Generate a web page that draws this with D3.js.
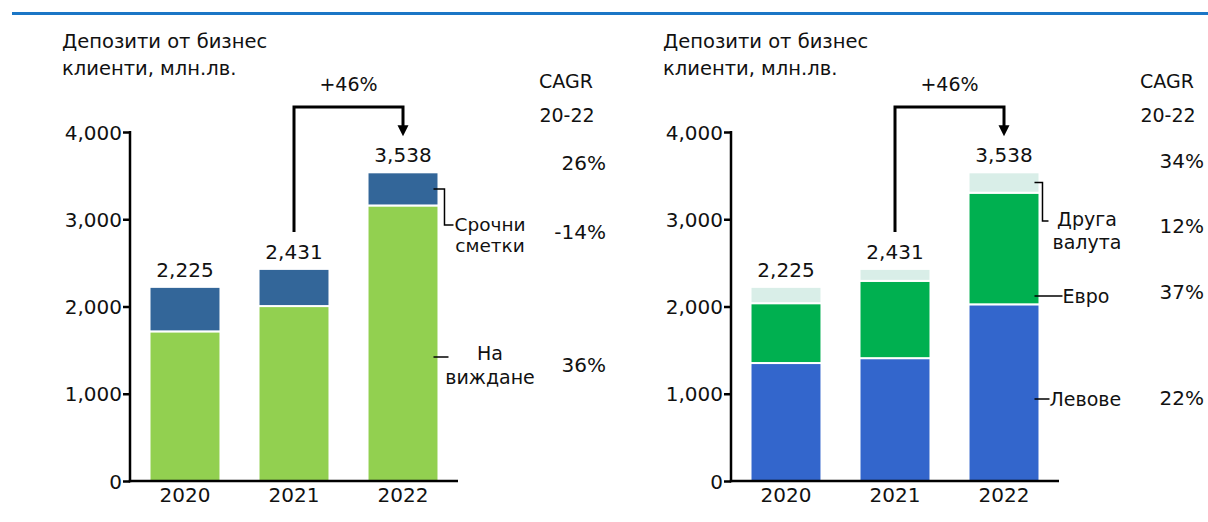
<!DOCTYPE html>
<html>
<head>
<meta charset="utf-8">
<script src="https://cdn.jsdelivr.net/npm/d3@7"></script>
<style>
  html, body { margin: 0; padding: 0; background: #fff; }
  svg { display: block; }
  text { font-family: "DejaVu Sans", Verdana, sans-serif; fill: #111; }
</style>
</head>
<body>
<svg id="chart" width="1208" height="522"></svg>
<script>
// Shared categories and axis ticks
const years = ["2020", "2021", "2022"];
const yTicks = [0, 1000, 2000, 3000, 4000];
const titleLines = ["Депозити от бизнес", "клиенти, млн.лв."];
const growthLabel = "+46%";
const cagrHeader = ["CAGR", "20-22"];

// Left panel: deposits by type (млн.лв.)
const demandDeposits = [1715, 2005, 3158];   // На виждане
const termDeposits   = [510, 426, 380];      // Срочни сметки
const typeTotals     = [2225, 2431, 3538];
const typeCagr       = ["26%", "-14%", "36%"];

// Right panel: deposits by currency (млн.лв.)
const bgnDeposits   = [1352, 1408, 2025];    // Левове
const eurDeposits   = [686, 886, 1279];      // Евро
const otherDeposits = [187, 137, 234];       // Друга валута
const currencyTotals = [2225, 2431, 3538];
const currencyCagr   = ["34%", "12%", "37%", "22%"];

const svg = d3.select("#chart");

// Thin blue rule across the top
svg.append("line")
  .attr("x1", 12).attr("x2", 1208)
  .attr("y1", 13.5).attr("y2", 13.5)
  .attr("stroke", "#1b76c6").attr("stroke-width", 3);

function drawPanel(ox, layers, totals) {
  const g = svg.append("g").attr("transform", `translate(${ox},0)`);

  const x = d3.scaleBand().domain(years)
    .range([130, 458]).paddingInner(0.349).paddingOuter(0.179);
  const y = d3.scaleLinear().domain([0, 4000]).range([481, 132]);

  // Title
  g.append("text").attr("x", 62).attr("y", 48).style("font-size", "19.5px").text(titleLines[0]);
  g.append("text").attr("x", 62).attr("y", 75).style("font-size", "19.5px").text(titleLines[1]);

  // Stacked bars
  const rows = years.map((yr, i) => {
    const r = { year: yr };
    layers.forEach(l => r[l.key] = l.values[i]);
    return r;
  });
  const stack = d3.stack().keys(layers.map(l => l.key))(rows);
  const colorOf = Object.fromEntries(layers.map(l => [l.key, l.color]));

  g.append("g").selectAll("g").data(stack).join("g")
    .attr("fill", d => colorOf[d.key])
    .selectAll("rect").data(d => d).join("rect")
      .attr("x", d => x(d.data.year))
      .attr("width", x.bandwidth())
      .attr("y", d => y(d[1]))
      .attr("height", d => y(d[0]) - y(d[1]))
      .attr("stroke", "#fff").attr("stroke-width", 2);

  // Y axis
  const yAxis = d3.axisLeft(y).tickValues(yTicks).tickSize(7).tickSizeOuter(0)
    .tickFormat(d3.format(","));
  const ay = g.append("g").attr("transform", "translate(130,0)").call(yAxis);
  ay.select(".domain").remove();
  ay.selectAll(".tick line").attr("stroke", "#000").attr("stroke-width", 2.5);
  ay.selectAll(".tick text").attr("x", -8).attr("dy", "0.35em")
    .style("font-size", "20px").style("font-family", "DejaVu Sans, Verdana, sans-serif").attr("fill", "#111");
  g.append("line").attr("x1", 130).attr("x2", 130).attr("y1", 131).attr("y2", 482.2)
    .attr("stroke", "#000").attr("stroke-width", 2.5);
  g.append("line").attr("x1", 128.8).attr("x2", 458).attr("y1", y(0)).attr("y2", y(0))
    .attr("stroke", "#000").attr("stroke-width", 2.5);

  // Year labels
  g.selectAll(".yr").data(years).join("text")
    .attr("x", d => x(d) + x.bandwidth() / 2).attr("y", 502)
    .attr("text-anchor", "middle").style("font-size", "20px").text(d => d);

  // Totals above bars
  g.selectAll(".tot").data(totals).join("text")
    .attr("x", (d, i) => x(years[i]) + x.bandwidth() / 2)
    .attr("y", d => y(d) - 10)
    .attr("text-anchor", "middle").style("font-size", "20px")
    .text(d => d3.format(",")(d));

  // Growth bracket 2021 -> 2022
  const cx1 = x(years[1]) + x.bandwidth() / 2;
  const cx2 = x(years[2]) + x.bandwidth() / 2;
  const topY = 107;
  g.append("path")
    .attr("d", `M${cx1},${y(totals[1]) - 37} V${topY} H${cx2} V${y(totals[2]) - 46}`)
    .attr("fill", "none").attr("stroke", "#000").attr("stroke-width", 3);
  const tip = y(totals[2]) - 36;
  g.append("path")
    .attr("d", `M${cx2 - 5.5},${tip - 11} L${cx2 + 5.5},${tip - 11} L${cx2},${tip} Z`)
    .attr("fill", "#000");
  g.append("text").attr("x", (cx1 + cx2) / 2).attr("y", 91)
    .attr("text-anchor", "middle").style("font-size", "19px").text(growthLabel);

  // CAGR header
  g.append("text").attr("x", 566).attr("y", 88).attr("text-anchor", "middle")
    .style("font-size", "19px").text(cagrHeader[0]);
  g.append("text").attr("x", 567).attr("y", 122).attr("text-anchor", "middle")
    .style("font-size", "19px").text(cagrHeader[1]);

  return { g, x, y };
}

// ---- Left panel ----
const left = drawPanel(0, [
  { key: "demand", values: demandDeposits, color: "#92d050" },
  { key: "term", values: termDeposits, color: "#336699" }
], typeTotals);

(function () {
  const { g, x, y } = left;
  const barR = x(years[2]) + x.bandwidth();
  const termMid = y(demandDeposits[2] + termDeposits[2] / 2);
  g.append("path")
    .attr("d", `M${barR - 5},${termMid} H${barR + 6} V225 H${barR + 15}`)
    .attr("fill", "none").attr("stroke", "#000").attr("stroke-width", 1.5);
  g.append("text").attr("x", 490).attr("y", 231).attr("text-anchor", "middle")
    .style("font-size", "18.5px").text("Срочни");
  g.append("text").attr("x", 490).attr("y", 252).attr("text-anchor", "middle")
    .style("font-size", "18.5px").text("сметки");
  g.append("line").attr("x1", barR - 5).attr("x2", barR + 10).attr("y1", 357).attr("y2", 357)
    .attr("stroke", "#000").attr("stroke-width", 1.5);
  g.append("text").attr("x", 490).attr("y", 360).attr("text-anchor", "middle")
    .style("font-size", "19px").text("На");
  g.append("text").attr("x", 490).attr("y", 384).attr("text-anchor", "middle")
    .style("font-size", "19px").text("виждане");

  const cy = [170, 239, 372];
  typeCagr.forEach((t, i) => {
    g.append("text").attr("x", 606).attr("y", cy[i]).attr("text-anchor", "end")
      .style("font-size", "20px").text(t);
  });
})();

// ---- Right panel ----
const right = drawPanel(601, [
  { key: "bgn", values: bgnDeposits, color: "#3366cc" },
  { key: "eur", values: eurDeposits, color: "#00b050" },
  { key: "other", values: otherDeposits, color: "#d9eee8" }
], currencyTotals);

(function () {
  const { g, x, y } = right;
  const barR = x(years[2]) + x.bandwidth();
  const otherMid = y(bgnDeposits[2] + eurDeposits[2] + otherDeposits[2] / 2);
  g.append("path")
    .attr("d", `M${barR - 5},${otherMid} H${barR + 3} V221 H${barR + 9}`)
    .attr("fill", "none").attr("stroke", "#000").attr("stroke-width", 1.5);
  g.append("text").attr("x", 486).attr("y", 226).attr("text-anchor", "middle")
    .style("font-size", "19px").text("Друга");
  g.append("text").attr("x", 486).attr("y", 249).attr("text-anchor", "middle")
    .style("font-size", "19px").text("валута");
  g.append("line").attr("x1", barR - 5).attr("x2", barR + 23).attr("y1", 296).attr("y2", 296)
    .attr("stroke", "#000").attr("stroke-width", 1.5);
  g.append("text").attr("x", barR + 23).attr("y", 303).style("font-size", "19px").text("Евро");
  g.append("line").attr("x1", barR - 5).attr("x2", barR + 10).attr("y1", 399).attr("y2", 399)
    .attr("stroke", "#000").attr("stroke-width", 1.5);
  g.append("text").attr("x", barR + 10).attr("y", 406).style("font-size", "19px").text("Левове");

  const cy = [168, 233, 299, 405];
  currencyCagr.forEach((t, i) => {
    g.append("text").attr("x", 603).attr("y", cy[i]).attr("text-anchor", "end")
      .style("font-size", "20px").text(t);
  });
})();
</script>
</body>
</html>
